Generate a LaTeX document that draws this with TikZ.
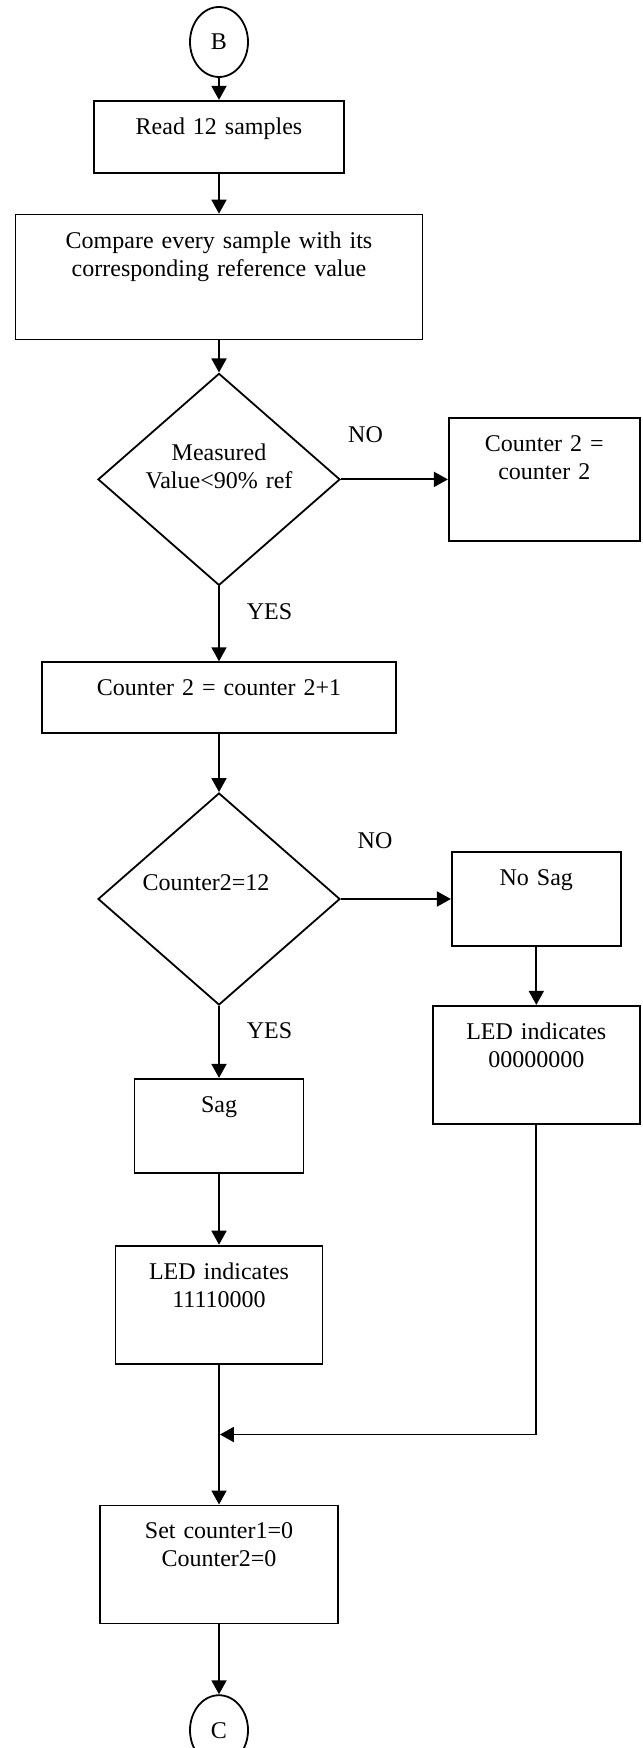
\documentclass[tikz,border=0pt]{standalone}
\usepackage{fontspec}
\setmainfont{Liberation Serif}
\usetikzlibrary{shapes.geometric,arrows.meta,positioning}

\begin{document}
\begin{tikzpicture}[>={Triangle[length=7pt,width=7.5pt]}, line width=0.9pt, font=\fontsize{12}{14}\selectfont]

    \tikzstyle{terminal} = [ellipse, draw=black, minimum width=29pt, minimum height=35pt, inner sep=0pt]
    \tikzstyle{proc} = [rectangle, draw=black, align=center, inner sep=0pt, text height=16.75pt]
    \tikzstyle{decision} = [diamond, draw=black, align=center, aspect=1.14, minimum width=121pt, minimum height=106pt, inner sep=0pt, text height=8pt]
    \tikzstyle{lbl} = [inner sep=0pt]

    \useasboundingbox (0,0) rectangle (321pt,-874pt);

    \node (B)       [terminal] at (109.5pt,-21pt)                                   {B};
    \node (read)    [proc, text width=125pt, text depth=19.25pt, below=11pt of B]   {Read 12 samples};
    \node (compare) [proc, text width=203.5pt, text depth=45.75pt, below=20pt of read]
                    {Compare every sample with its\\corresponding reference value};

    \node (dec1)    [decision, text width=76pt, text depth=27pt, below=16pt of compare]
                    {Measured\\Value<90\% ref};
    \node (cnt0)    [proc, text width=95.5pt, text depth=44.75pt, right=53.5pt of dec1]
                    {Counter 2 =\\counter 2};
    \node (cnt1)    [proc, text width=177pt, text depth=18.75pt, below=37.5pt of dec1]
                    {Counter 2 = counter 2+1};

    \node (dec2)    [decision, text depth=17pt, below=29pt of cnt1]                 {Counter2=12\hspace{13pt}};
    \node (nosag)   [proc, text width=84.5pt, text depth=30.25pt, right=55pt of dec2] {No Sag};
    \node (led0)    [proc, text width=103.5pt, text depth=42.25pt, below=29pt of nosag]
                    {LED indicates\\00000000};

    \node (sag)     [proc, text width=84.5pt, text depth=30.25pt, below=36pt of dec2] {Sag};
    \node (led1)    [proc, text width=103.5pt, text depth=42.25pt, below=35.5pt of sag]
                    {LED indicates\\11110000};

    \coordinate [below=35pt of led1] (join);

    \node (reset)   [proc, text width=119pt, text depth=42.25pt, below=70pt of led1]
                    {Set counter1=0\\Counter2=0};
    \node (C)       [terminal, below=35pt of reset]                                 {C};

    \path[->]  (B)       edge                                                  (read);
    \path[->]  (read)    edge                                                  (compare);
    \path[->]  (compare) edge                                                  (dec1);
    \path[->]  (dec1)    edge  node (no1)  [lbl, pos=0.23, above=18pt]   {NO}  (cnt0);
    \path[->]  (dec1)    edge  node (yes1) [lbl, pos=0.34, right=13.5pt] {YES} (cnt1);
    \path[->]  (cnt1)    edge                                                  (dec2);
    \path[->]  (dec2)    edge  node (no2)  [lbl, pos=0.31, above=24.5pt] {NO}  (nosag);
    \path[->]  (dec2)    edge  node (yes2) [lbl, pos=0.35, right=13.5pt] {YES} (sag);
    \path[->]  (nosag)   edge                                                  (led0);
    \path[->]  (sag)     edge                                                  (led1);
    \path[->]  (led1)    edge                                                  (reset);
    \draw[->, shorten >=0.45pt] (led0) |- (join);
    \path[->]  (reset)   edge                                                  (C);

\end{tikzpicture}
\end{document}
